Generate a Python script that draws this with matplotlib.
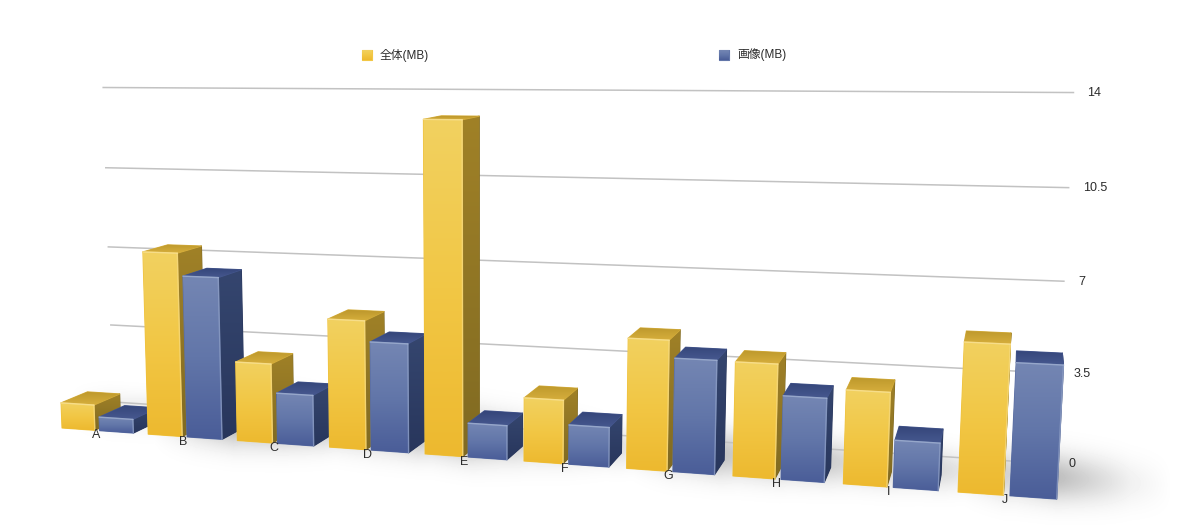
#!/usr/bin/env python3
from __future__ import annotations

import matplotlib
matplotlib.use("Agg")
import matplotlib.pyplot as plt
import numpy as np
from matplotlib.colors import LinearSegmentedColormap
from matplotlib.patches import Polygon


CATEGORIES = ["A", "B", "C", "D", "E", "F", "G", "H", "I", "J"]
TOTAL_MB = [1.08, 7.6, 3.25, 5.19, 13.1, 2.49, 5.01, 4.32, 3.5, 5.46]
IMAGE_MB = [0.58, 6.67, 2.07, 4.36, 1.35, 1.54, 4.34, 3.15, 1.75, 4.81]
Y_TICKS = [0, 3.5, 7, 10.5, 14]
Y_TICK_LABELS = ["0", "3.5", "7", "10.5", "14"]
SERIES_NAMES = ["全体(MB)", "画像(MB)"]

FONT = ["Liberation Sans", "Noto Sans CJK JP"]
INK = "#2b2b2b"
GRID = "#c2c2c2"

YELLOW = {
    "front": ["#f1d160", "#f2c745", "#edb92f"],
    "top": ["#bd982c", "#d6ae3c"],
    "side": ["#a08127", "#806a22"],
    "edge": "#f9e39a",
}
BLUE = {
    "front": ["#7486b3", "#6276a9", "#4a5d98"],
    "top": ["#35467a", "#46588f"],
    "side": ["#35466f", "#28365c"],
    "edge": "#a3b3d3",
}

BAR_WIDTH = 0.385
BLUE_SHIFT = 0.44
WALL_DEPTH = 2.27
WALL_X0 = -0.08
WALL_X1 = 9.83


def project(x, depth, z):
    # hand-fitted perspective camera: category position, depth, value -> pixels
    w = 1 - 0.0165 * x + 0.028 * depth - 0.00204 * z
    px = (62 + 83.75 * x + 28.8 * depth - 0.98 * z) / w
    py = (428 - 1.0 * x - 24.1 * z) / w
    return px, py


def shade(ax, pts, colors):
    # soft outline rounds the corners a little
    outline = Polygon(pts, closed=True, facecolor="none", edgecolor=colors[1], lw=0.8, joinstyle="round", zorder=3)
    ax.add_patch(outline)
    poly = Polygon(pts, closed=True, facecolor=colors[-1], edgecolor="none", zorder=3)
    ax.add_patch(poly)
    xs, ys = zip(*pts)
    cmap = LinearSegmentedColormap.from_list("face", colors)
    grad = np.linspace(0, 1, 128).reshape(-1, 1)
    im = ax.imshow(
        grad,
        cmap=cmap,
        aspect="auto",
        extent=(min(xs), max(xs), max(ys), min(ys)),
        zorder=3,
        interpolation="bilinear",
    )
    im.set_clip_path(poly)
    return im


def draw_bar(ax, x, width, value, style):
    x1 = x + width
    fl = project(x, 0, value)
    fr = project(x1, 0, value)
    bl = project(x, 1, value)
    br = project(x1, 1, value)
    base_l = project(x, 0, 0)
    base_r = project(x1, 0, 0)
    base_back = project(x1, 1, 0)

    shade(ax, [fr, br, base_back, base_r], style["side"])
    shade(ax, [bl, br, fr, fl], style["top"])
    shade(ax, [fl, fr, base_r, base_l], style["front"])

    # bevel highlights along the front face edges
    ax.plot(*zip(fl, fr), color=style["edge"], lw=1.0, alpha=0.8, zorder=3, solid_capstyle="round")
    ax.plot(*zip(fr, base_r), color=style["edge"], lw=1.0, alpha=0.55, zorder=3, solid_capstyle="round")


def draw_shadows(ax):
    yy, xx = np.mgrid[0:525, 0:1200]
    dark = np.zeros(xx.shape)
    for i in range(len(CATEGORIES)):
        for shift, value in [(0, TOTAL_MB[i]), (BLUE_SHIFT, IMAGE_MB[i])]:
            x0, y0 = project(i + shift + BAR_WIDTH, 0.5, 0)
            height = min(value, 6)
            reach = 50 + 14 * height
            along = np.clip((xx - x0 + 40) / 40, 0, 1) * np.clip(1 - (xx - x0) / reach, 0, 1)
            centre = y0 - 14 + 0.07 * (xx - x0)
            spread = 16 + 1.5 * height
            dark += (0.05 + 0.022 * height) * along * np.exp(-(((yy - centre) / spread) ** 2))
    dark = np.clip(dark, 0, 0.26)
    ax.imshow(1 - dark, cmap="gray", vmin=0, vmax=1, extent=(0, 1200, 525, 0), aspect="auto", zorder=0)


def main() -> None:
    fig = plt.figure(figsize=(12, 5.25), dpi=100)
    ax = fig.add_axes([0, 0, 1, 1])

    draw_shadows(ax)

    for value, label in zip(Y_TICKS, Y_TICK_LABELS):
        left = project(WALL_X0, WALL_DEPTH, value)
        right = project(WALL_X1, WALL_DEPTH, value)
        ax.plot(*zip(left, right), color=GRID, lw=1.1, zorder=1)
        ax.text(right[0] + 14, right[1] + 0.5, label, ha="left", va="center", fontsize=9, color=INK, family=FONT, zorder=5)

    for i, name in enumerate(CATEGORIES):
        draw_bar(ax, i, BAR_WIDTH, TOTAL_MB[i], YELLOW)
        draw_bar(ax, i + BLUE_SHIFT, BAR_WIDTH + 0.005, IMAGE_MB[i], BLUE)
        px, py = project(i + 0.4, 0, 0)
        ax.text(px, py + 5, name, ha="center", va="center", fontsize=9, color=INK, family=FONT, zorder=5)

    # legend
    for left, name, style in zip([362, 719], SERIES_NAMES, [YELLOW, BLUE]):
        shade(ax, [(left, 50), (left + 10, 50), (left + 10, 60), (left, 60)], style["front"])
        ax.text(left + 18, 55, name, ha="left", va="center", fontsize=8.5, color=INK, family=FONT, zorder=5)

    ax.set_xlim(0, 1200)
    ax.set_ylim(525, 0)
    ax.axis("off")
    fig.savefig("out.png", dpi=100, facecolor="white")
    plt.close(fig)


if __name__ == "__main__":
    main()
